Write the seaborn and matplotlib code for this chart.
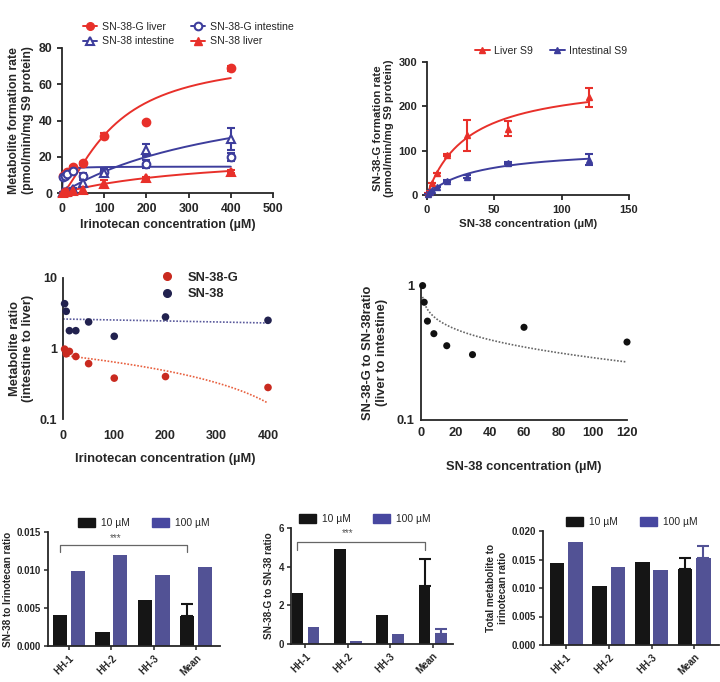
import numpy as np
import pandas as pd
import matplotlib
matplotlib.use("Agg")
import matplotlib.pyplot as plt
import seaborn as sns
from matplotlib.lines import Line2D
from matplotlib.patches import Patch
from matplotlib.ticker import FixedLocator, FixedFormatter, NullLocator

# ---------------- data ----------------
# panel A: irinotecan incubations (pmol/min/mg S9 protein)
irino_conc = [3.125, 6.25, 12.5, 25, 50, 100, 200, 400]
sn38g_liver = [9.5, 10.5, 11.5, 14.5, 16.4, 31.4, 39.3, 68.8]
sn38g_liver_err = [0, 0, 0, 0.5, 0.8, 1.5, 0.5, 1.5]
sn38g_int = [9.0, 9.5, 10.5, 12.0, 9.5, 11.8, 16.0, 19.7]
sn38g_int_err = [0, 0, 0, 0.5, 1.8, 1.5, 2.0, 2.2]
sn38_int = [0.3, 0.6, 1.2, 2.2, 5.5, 11.0, 23.7, 29.6]
sn38_int_err = [0, 0, 0, 0.5, 1.5, 1.5, 3.3, 6.0]
sn38_liver = [0.2, 0.4, 0.7, 1.2, 1.6, 5.0, 8.1, 11.8]
sn38_liver_err = [0, 0, 0, 0.3, 1.5, 2.0, 0.5, 0.8]
# fitted kinetic parameters (Vmax, Km, Hill n)
fit_g_liver = (76.0, 126.0, 1.4)
fit_g_int = (14.6, 2.0, 1.0)
fit_38_int = (64.0, 442.0, 1.0)
fit_38_liver = (23.0, 355.0, 1.0)

# panel B: SN-38 glucuronidation
sn38_conc = [0.9375, 1.875, 3.75, 7.5, 15, 30, 60, 120]
liver_s9 = [4, 10, 26, 49, 90, 135, 150, 220]
liver_s9_err = [0, 0, 0, 0, 3, 35, 17, 22]
int_s9 = [3, 6, 11, 19, 32, 41, 72, 80]
int_s9_err = [0, 0, 0, 0, 2, 3, 2, 13]
fit_liver_s9 = (264.0, 31.0, 1.0)
fit_int_s9 = (107.0, 37.0, 1.0)

# panel C: intestine to liver ratios
ratio_sn38g = [0.98, 0.84, 0.91, 0.77, 0.61, 0.38, 0.40, 0.28]
ratio_sn38 = [4.32, 3.37, 1.79, 1.79, 2.38, 1.49, 2.80, 2.51]
trend_sn38g = (0.80, -0.00158)
trend_sn38 = (2.62, -0.0008)

# panel D: liver to intestine SN-38-G ratio
ratio_d = [0.99, 0.745, 0.54, 0.436, 0.355, 0.305, 0.486, 0.378]
trend_d = (0.81, -0.113)

# panels E-G: hepatocytes
donors = ["HH-1", "HH-2", "HH-3", "Mean"]
dose_labels = ["10 µM", "100 µM"]
e_10 = [0.0041, 0.0018, 0.0060, 0.0040]
e_100 = [0.0099, 0.0120, 0.0093, 0.0104]
e_sd = [0.0015, 0.0]
f_10 = [2.65, 4.93, 1.50, 3.02]
f_100 = [0.87, 0.18, 0.50, 0.53]
f_sd = [1.40, 0.24]
g_10 = [0.0144, 0.0103, 0.0145, 0.0134]
g_100 = [0.0181, 0.0136, 0.0132, 0.0153]
g_sd = [0.0019, 0.0021]

RED = "#e8302a"
BLUE = "#3d3d9c"
C_RED = "#c92a1f"
C_BLUE = "#22224f"
BAR_COLORS = {"10 µM": "#151515", "100 µM": "#4747a0"}


def hill(x, p):
    v, k, n = p
    return v * x ** n / (k ** n + x ** n)


sns.set_theme(style="ticks")
plt.rcParams["font.family"] = ["Liberation Sans", "DejaVu Sans"]
plt.rcParams["axes.linewidth"] = 1.3
plt.rcParams["xtick.major.width"] = 1.3
plt.rcParams["ytick.major.width"] = 1.3
plt.rcParams["xtick.major.size"] = 3.5
plt.rcParams["ytick.major.size"] = 3.5
plt.rcParams["axes.labelweight"] = "bold"

W, H = 720, 682
fig = plt.figure(figsize=(7.2, 6.82), dpi=100)


def px_axes(l, t, r, b):
    return fig.add_axes([l / W, 1 - b / H, (r - l) / W, (b - t) / H])


def bold_ticks(ax, size):
    for lab in ax.get_xticklabels() + ax.get_yticklabels():
        lab.set_fontweight("bold")
        lab.set_fontsize(size)


# ---------------- panel A ----------------
ax = px_axes(62, 48, 273, 193)
xs = np.linspace(0, 400, 300)
series_a = [
    (sn38g_liver, sn38g_liver_err, fit_g_liver, RED, "o", RED),
    (sn38g_int, sn38g_int_err, fit_g_int, BLUE, "o", "white"),
    (sn38_int, sn38_int_err, fit_38_int, BLUE, "^", "white"),
    (sn38_liver, sn38_liver_err, fit_38_liver, RED, "^", RED),
]
for y, err, p, col, mk, mfc in series_a:
    sns.lineplot(x=xs, y=hill(xs, p), color=col, lw=1.4, ax=ax)
    ax.errorbar(irino_conc, y, yerr=err, fmt=mk, color=col, mfc=mfc, mec=col,
                mew=1.5, ms=5.5, capsize=3, elinewidth=1.5, capthick=1.5,
                clip_on=False, zorder=3)
ax.set_xlim(0, 500)
ax.set_ylim(0, 80)
ax.set_xticks([0, 100, 200, 300, 400, 500])
ax.set_yticks([0, 20, 40, 60, 80])
ax.set_xlabel("Irinotecan concentration (µM)", fontsize=9, labelpad=3)
ax.set_ylabel("Metabolite formation rate\n(pmol/min/mg S9 protein)", fontsize=8.8, labelpad=3)
bold_ticks(ax, 8.8)
sns.despine(ax=ax)
h_gl = Line2D([], [], color=RED, marker="o", ms=5.5, lw=1.4)
h_gi = Line2D([], [], color=BLUE, marker="o", mfc="white", mew=1.5, ms=5.5, lw=1.4)
h_si = Line2D([], [], color=BLUE, marker="^", mfc="white", mew=1.5, ms=5.5, lw=1.4)
h_sl = Line2D([], [], color=RED, marker="^", ms=5.5, lw=1.4)
fig.legend([h_gl, h_si, h_gi, h_sl],
           ["SN-38-G liver", "SN-38 intestine", "SN-38-G intestine", "SN-38 liver"],
           ncol=2, loc="center", bbox_to_anchor=(188 / W, 1 - 34 / H), frameon=False,
           fontsize=7.6, handlelength=1.4, handletextpad=0.4, columnspacing=1.6,
           labelspacing=0.45)

# ---------------- panel B ----------------
ax = px_axes(427, 62, 629, 195)
xs = np.linspace(0, 120, 300)
for y, err, p, col in [(liver_s9, liver_s9_err, fit_liver_s9, RED),
                       (int_s9, int_s9_err, fit_int_s9, BLUE)]:
    sns.lineplot(x=xs, y=hill(xs, p), color=col, lw=1.4, ax=ax)
    ax.errorbar(sn38_conc, y, yerr=err, fmt="^", color=col, ms=5, capsize=3,
                elinewidth=1.5, capthick=1.5, clip_on=False, zorder=3)
ax.set_xlim(0, 150)
ax.set_ylim(0, 300)
ax.set_xticks([0, 50, 100, 150])
ax.set_yticks([0, 100, 200, 300])
ax.set_xlabel("SN-38 concentration (µM)", fontsize=8.2, labelpad=3)
ax.set_ylabel("SN-38-G formation rate\n(pmol/min/mg S9 protein)", fontsize=8.2, labelpad=3)
bold_ticks(ax, 8)
sns.despine(ax=ax)
fig.legend([Line2D([], [], color=RED, marker="^", ms=5, lw=1.4),
            Line2D([], [], color=BLUE, marker="^", ms=5, lw=1.4)],
           ["Liver S9", "Intestinal S9"], ncol=2, loc="center",
           bbox_to_anchor=(551 / W, 1 - 51 / H), frameon=False, fontsize=7.6,
           handlelength=1.4, handletextpad=0.4, columnspacing=1.6)

# ---------------- panel C ----------------
ax = px_axes(63, 278, 268, 419)
xs = np.linspace(0, 400, 300)
xg = np.linspace(irino_conc[0], 400, 300)
ax.plot(xs, trend_sn38[0] + trend_sn38[1] * xs, ls=(0, (1, 1)), color="#5a5a9c", lw=1.2)
ax.plot(xg, trend_sn38g[0] + trend_sn38g[1] * xg, ls=(0, (1, 1)), color="#e8603f", lw=1.2)
sns.scatterplot(x=irino_conc, y=ratio_sn38g, color=C_RED, s=30, edgecolor="none",
                ax=ax, clip_on=False, zorder=3)
sns.scatterplot(x=irino_conc, y=ratio_sn38, color=C_BLUE, s=30, edgecolor="none",
                ax=ax, clip_on=False, zorder=3)
ax.set_yscale("log")
ax.set_xlim(0, 400)
ax.set_ylim(0.1, 10)
ax.yaxis.set_major_locator(FixedLocator([0.1, 1, 10]))
ax.yaxis.set_major_formatter(FixedFormatter(["0.1", "1", "10"]))
ax.yaxis.set_minor_locator(NullLocator())
ax.set_xticks([0, 100, 200, 300, 400])
ax.tick_params(axis="x", length=0, pad=8)
ax.tick_params(axis="y", length=0, pad=4)
ax.spines["bottom"].set_visible(False)
ax.set_xlabel("Irinotecan concentration (µM)", fontsize=9.3, labelpad=8)
ax.set_ylabel("Metabolite ratio\n(intestine to liver)", fontsize=9.3, labelpad=4)
bold_ticks(ax, 9)
sns.despine(ax=ax, bottom=True)
leg = fig.legend([Line2D([], [], ls="", marker="o", color=C_RED, ms=5.5),
                  Line2D([], [], ls="", marker="o", color=C_BLUE, ms=5.5)],
                 ["SN-38-G", "SN-38"], loc="center left",
                 bbox_to_anchor=(148 / W, 1 - 286 / H), frameon=False,
                 prop={"size": 9.3, "weight": "bold"}, handlelength=1.2,
                 handletextpad=1.0, labelspacing=0.35)

# ---------------- panel D ----------------
ax = px_axes(421, 285, 627, 420)
xd = np.linspace(sn38_conc[0], 120, 300)
ax.plot(xd, trend_d[0] + trend_d[1] * np.log(xd), ls=(0, (1, 1)), color="#666666", lw=1.2)
sns.scatterplot(x=sn38_conc, y=ratio_d, color="#111111", s=26, edgecolor="none",
                ax=ax, clip_on=False, zorder=3)
ax.set_yscale("log")
ax.set_xlim(0, 120)
ax.set_ylim(0.1, 1)
ax.yaxis.set_major_locator(FixedLocator([0.1, 1]))
ax.yaxis.set_major_formatter(FixedFormatter(["0.1", "1"]))
ax.yaxis.set_minor_locator(NullLocator())
ax.set_xticks([0, 20, 40, 60, 80, 100, 120])
ax.tick_params(axis="both", length=0, pad=5)
ax.set_xlabel("SN-38 concentration (µM)", fontsize=9.3, labelpad=16)
ax.set_ylabel("SN-38-G to SN-38ratio\n(liver to intestine)", fontsize=9.3, labelpad=6)
bold_ticks(ax, 9.3)
sns.despine(ax=ax)


# ---------------- panels E-G ----------------
def bar_panel(ax, v10, v100, sd, ylim, yticks, fmt, ylabel, width, gap, bracket=None):
    df = pd.DataFrame({"donor": donors * 2,
                       "dose": [dose_labels[0]] * 4 + [dose_labels[1]] * 4,
                       "value": v10 + v100})
    sns.barplot(data=df, x="donor", y="value", hue="dose", palette=BAR_COLORS,
                width=width, gap=gap, errorbar=None, linewidth=0, legend=False, ax=ax)
    for cont, s in zip(ax.containers, sd):
        bar = cont[3]
        if s > 0:
            ax.errorbar(bar.get_x() + bar.get_width() / 2, bar.get_height(),
                        yerr=[[0], [s]], fmt="none", ecolor=bar.get_facecolor(),
                        elinewidth=1.5, capsize=4.5, capthick=1.5, clip_on=False)
    if bracket is not None:
        b0 = ax.containers[0][0]
        b3 = ax.containers[0][3]
        x1 = b0.get_x() + b0.get_width() / 2
        x2 = b3.get_x() + b3.get_width() / 2
        y0, y1, ystar, xstar = bracket
        ax.plot([x1, x1, x2, x2], [y0, y1, y1, y0], color="#666666", lw=0.9)
        ax.text(xstar, ystar, "***", ha="center", va="center", fontsize=7, color="#555555")
    ax.set_ylim(*ylim)
    ax.set_yticks(yticks)
    ax.set_yticklabels([fmt.format(t) for t in yticks])
    ax.set_xticks(range(4))
    ax.set_xticklabels(donors, rotation=45, ha="right", rotation_mode="anchor")
    ax.set_xlabel("")
    ax.set_ylabel(ylabel, fontsize=7.2, labelpad=3)
    ax.tick_params(axis="both", length=3, width=1.1, pad=2)
    bold_ticks(ax, 7)
    sns.despine(ax=ax)


def bar_legend(cx, cy):
    fig.legend([Patch(color=BAR_COLORS[d]) for d in dose_labels], dose_labels,
               ncol=2, loc="center", bbox_to_anchor=(cx / W, 1 - cy / H),
               frameon=False, fontsize=7.4, handlelength=1.6, handleheight=0.9,
               handletextpad=0.6, columnspacing=2.2)


ax = px_axes(48, 532, 220, 646)
bar_panel(ax, e_10, e_100, e_sd, (0, 0.015), [0, 0.005, 0.010, 0.015], "{:.3f}",
          "SN-38 to Irinotecan ratio", 0.84, 0.2,
          bracket=(0.0124, 0.0133, 0.0142, 1.1))
ax.set_xlim(-0.5, 3.57)
bar_legend(144, 523)

ax = px_axes(291, 528, 453, 644)
bar_panel(ax, f_10, f_100, f_sd, (0, 6), [0, 2, 4, 6], "{:d}",
          "SN-38-G to SN-38 ratio", 0.76, 0.28,
          bracket=(4.86, 5.28, 5.75, 1.0))
ax.set_xlim(-0.34, 3.48)
bar_legend(365, 519)

ax = px_axes(543, 531, 719, 645)
bar_panel(ax, g_10, g_100, g_sd, (0, 0.020), [0, 0.005, 0.010, 0.015, 0.020], "{:.3f}",
          "Total metabolite to\nirinotecan ratio", 0.86, 0.2)
ax.set_xlim(-0.54, 3.58)
bar_legend(632, 522)

fig.savefig("out.png", dpi=100)
